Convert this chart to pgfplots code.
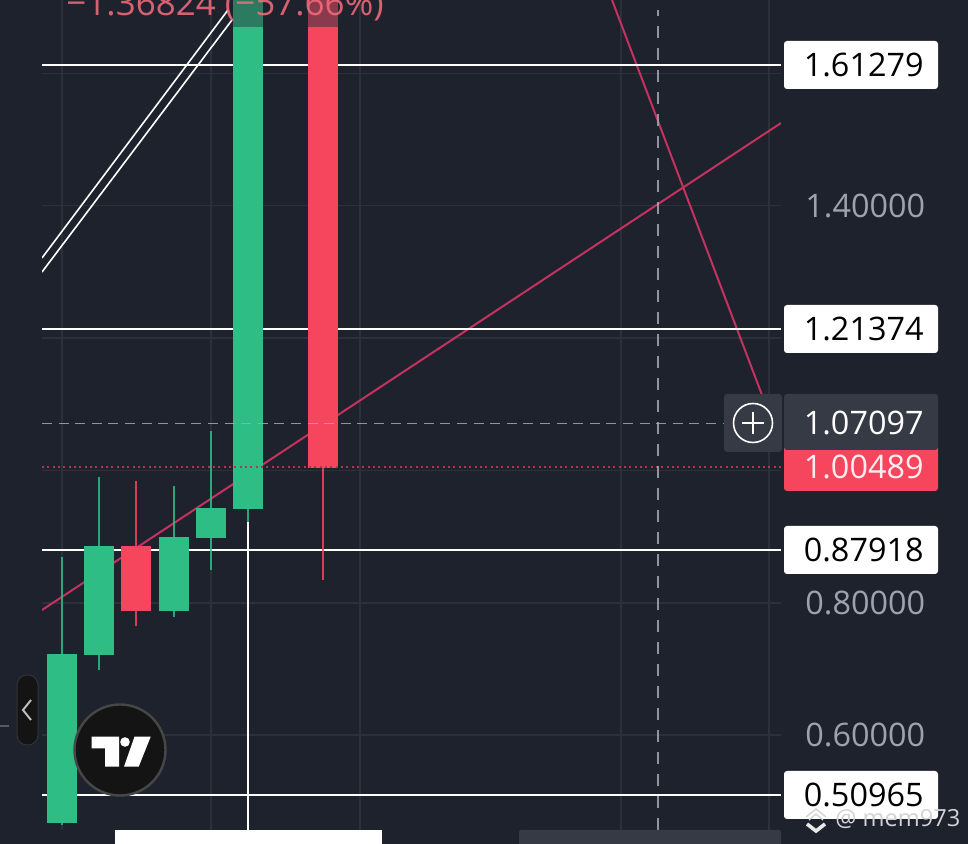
\documentclass[border=0pt]{standalone}
\usepackage{fontspec}
\setmainfont{Open Sans}
\usepackage{pgfplots}
\pgfplotsset{compat=1.18}

\definecolor{bg}{HTML}{1E222D}
\definecolor{gridc}{HTML}{2B303B}
\definecolor{up}{HTML}{2EBD85}
\definecolor{down}{HTML}{F6465D}
\definecolor{updim}{HTML}{2C7A5F}
\definecolor{downdim}{HTML}{8A3A4C}
\definecolor{trend}{HTML}{C4325F}
\definecolor{tickc}{HTML}{9CA3AF}
\definecolor{dashc}{HTML}{A3A8B2}
\definecolor{panel}{HTML}{363A45}

% colour, x centre, low, body bottom, body top, high
\newcommand{\candle}[6]{
  \addplot[#1,line width=0.85pt,opacity=0.85] coordinates {(#2,#3) (#2,#6)};
  \addplot[fill=#1,draw=none] coordinates {(#2-15,#4) (#2+15,#4) (#2+15,#5) (#2-15,#5)} -- cycle;
}

\begin{document}
\begin{tikzpicture}
\path[use as bounding box,clip] (0,0) rectangle (484pt,422pt);
\fill[bg] (0,0) rectangle (484pt,422pt);

\begin{axis}[
    at={(21pt,7pt)}, anchor=south west,
    scale only axis, width=369.5pt, height=415pt,
    xmin=42, xmax=781, ymin=0.4567, ymax=1.7110,
    axis line style={draw=none},
    major tick length=0pt,
    xtick={62,211,360,621,769}, xticklabels={},
    ytick={0.6,0.8,1.0,1.2,1.4,1.6},
    yticklabel pos=right,
    scaled y ticks=false,
    grid=major,
    grid style={gridc,line width=0.7pt},
    /pgf/number format/assume math mode=true,
    /pgf/number format/fixed,
    /pgf/number format/fixed zerofill,
    /pgf/number format/precision=5,
    yticklabel style={anchor=west,xshift=12pt,inner sep=0pt,text=tickc,font=\fontsize{16.2}{16.2}\selectfont},
    no markers,
]
% trend lines
\addplot[trend,line width=1pt] coordinates {(42,0.7891) (781,1.5251)};
\addplot[trend,line width=1pt] coordinates {(612,1.7110) (762,1.1141)};
\addplot[white,line width=0.8pt] coordinates {(42,1.3211) (228,1.6959)};
\addplot[white,line width=0.8pt] coordinates {(42,1.2999) (232,1.6808)};
% fib levels
\addplot[white,line width=1pt] coordinates {(42,1.61279) (781,1.61279)};
\addplot[white,line width=1pt] coordinates {(42,1.21374) (781,1.21374)};
\addplot[white,line width=1pt] coordinates {(42,0.87918) (781,0.87918)};
\addplot[white,line width=1pt] coordinates {(42,0.50965) (781,0.50965)};
\addplot[white,line width=1pt] coordinates {(248,0.4567) (248,0.9226)};
% candles
\candle{up}{62}{0.4642}{0.4677}{0.7226}{0.8697}
\candle{up}{99}{0.6985}{0.7211}{0.8859}{0.9906}
\candle{down}{136}{0.7654}{0.7876}{0.8859}{0.9841}
\candle{up}{174}{0.7790}{0.7876}{0.8995}{0.9770}
\candle{up}{211}{0.8496}{0.8984}{0.9433}{1.0597}
\candle{up}{248}{0.9226}{0.9418}{1.6702}{1.6702}
\candle{updim}{248}{1.6702}{1.6702}{1.7110}{1.7110}
\candle{down}{323}{0.8345}{1.0037}{1.6702}{1.6702}
\candle{downdim}{323}{1.6702}{1.6702}{1.7110}{1.7110}
% last price, crosshair
\addplot[down!65!bg,line width=0.9pt,dash pattern=on 1pt off 1.67pt] coordinates {(42,1.00489) (781,1.00489)};
\addplot[dashc,line width=0.85pt,dash pattern=on 5pt off 3.3pt,opacity=0.85] coordinates {(42,1.07097) (724,1.07097)};
\addplot[dashc,line width=0.8pt,dash pattern=on 6pt off 5pt,opacity=0.85] coordinates {(658,0.4567) (658,1.6960)};
\end{axis}

% everything below is chart furniture, in image pixels
\begin{scope}[x=0.5pt,y=-0.5pt,yshift=422pt]
\tikzset{
  pill/.style={rounded corners=1.5pt},
  lab/.style={anchor=base east,inner sep=0pt,font=\fontsize{16.2}{16.2}\selectfont},
}
\node[anchor=base west,inner sep=0pt,text=down!80!white,opacity=0.85,font=\fontsize{17.5}{17.5}\selectfont] at (66,16) {−1.36824 (−57.66\%)};

% price labels
\foreach \yy/\tt in {65/1.61279,329/1.21374,550/0.87918,795/0.50965}{
  \fill[white,pill] (784,\yy-24) rectangle (938,\yy+24);
  \node[lab,text=black] at (924,\yy+11.5) {\tt};
}
\fill[down,pill] (784,445) rectangle (938,491);
\node[lab,text=white!90!down] at (924,479) {1.00489};
\fill[panel,pill] (784,394) rectangle (938,450);
\node[lab,text=white] at (924,435) {1.07097};
\fill[panel,pill] (724,394) rectangle (782,452);
\draw[white,line width=0.8pt] (753,423) circle (19.5);
\draw[white,line width=0.7pt] (742,423) -- (764,423) (753,412) -- (753,434);

% left tab and logo
\fill[gray!60!bg] (0,725) rectangle (9,727);
\filldraw[fill=black!92!white,draw=white!20!black,line width=0.5pt,rounded corners=5pt] (17,675) rectangle (38,745);
\draw[white!75!black,line width=1pt] (31,700) -- (23,710) -- (31,720);
\filldraw[fill=black!92!white,draw=white!28!black,line width=1.2pt] (120,750) circle (45.5);
\fill[white] (91.7,736.7) -- (119,736.7) -- (119,766.7) -- (105,766.7) -- (105,748.3) -- (91.7,748.3) -- cycle;
\fill[white] (125,742) circle (4.8);
\fill[white] (134.5,736.7) -- (150.7,736.7) -- (138.7,766.7) -- (124,766.7) -- cycle;

% bottom bars
\fill[white] (115,830) rectangle (382,844);
\fill[panel,rounded corners=1pt] (519,830) rectangle (781,850);

% watermark
\draw[white!80!bg,line width=0.7pt] (806,817) -- (816,809) -- (826,817) (809,820) -- (816,814) -- (823,820);
\draw[white!90!bg,line width=1.8pt] (807,824) -- (816,831) -- (825,824);
\node[anchor=base west,inner sep=0pt,text=white!80!bg,font=\fontsize{11.8}{12}\selectfont] at (835,827) {@ mem973};
\end{scope}
\end{tikzpicture}
\end{document}
